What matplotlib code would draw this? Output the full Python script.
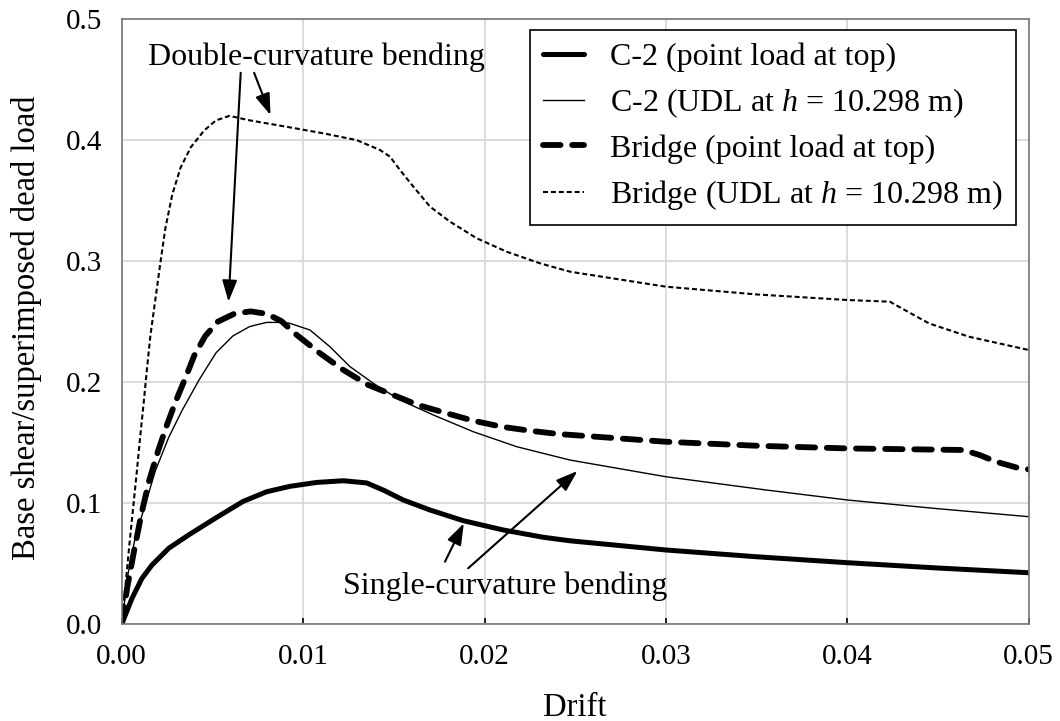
import matplotlib
matplotlib.use("Agg")
import matplotlib.pyplot as plt

plt.rcParams["font.family"] = ["Liberation Serif", "DejaVu Serif"]
plt.rcParams["mathtext.fontset"] = "custom"
plt.rcParams["mathtext.rm"] = "Liberation Serif"
plt.rcParams["mathtext.it"] = "Liberation Serif:italic"

# Pushover curves: drift vs base shear / superimposed dead load
c2_point_x = [0.0, 0.00056, 0.00111, 0.00167, 0.0026, 0.00371, 0.0052, 0.00669, 0.00799,
              0.00928, 0.01075, 0.01222, 0.0135, 0.01442, 0.01552, 0.0170, 0.01883,
              0.02104, 0.02324, 0.02471, 0.0300, 0.0350, 0.0400, 0.0450, 0.0500]
c2_point_y = [0.0, 0.0212, 0.0378, 0.0490, 0.0629, 0.0740, 0.0880, 0.1015, 0.1095,
              0.1140, 0.1172, 0.1186, 0.1168, 0.1109, 0.1027, 0.0944, 0.0856,
              0.0779, 0.0719, 0.0690, 0.0614, 0.0558, 0.0509, 0.0465, 0.0426]

c2_udl_x = [0.0, 0.00037, 0.00074, 0.0013, 0.00186, 0.0026, 0.00334, 0.00427, 0.0052,
            0.00613, 0.00706, 0.00799, 0.00891, 0.00928, 0.01038, 0.01148, 0.01259,
            0.01387, 0.01534, 0.01718, 0.01938, 0.02178, 0.02471, 0.0300, 0.0355,
            0.0400, 0.0450, 0.0500]
c2_udl_y = [0.0, 0.0434, 0.0712, 0.0990, 0.1270, 0.1547, 0.1770, 0.2020, 0.2243,
            0.2382, 0.2460, 0.2494, 0.2494, 0.2486, 0.2431, 0.2293, 0.2128,
            0.1991, 0.1853, 0.1729, 0.1591, 0.1467, 0.1357, 0.1219, 0.1110,
            0.1027, 0.0955, 0.0889]

bridge_point_x = [0.0, 0.0003, 0.0007, 0.0011, 0.0015, 0.0020, 0.0025, 0.0030, 0.0035,
                  0.0040, 0.0046, 0.0053, 0.0062, 0.0071, 0.0080, 0.0088, 0.00965,
                  0.01093, 0.01222, 0.01359, 0.01497, 0.01635, 0.01792, 0.01938,
                  0.02095, 0.02251, 0.02407, 0.0300, 0.0350, 0.0400, 0.0464, 0.0473,
                  0.0482, 0.0495, 0.0500]
bridge_point_y = [0.0, 0.030, 0.062, 0.092, 0.118, 0.143, 0.165, 0.185, 0.203,
                  0.222, 0.238, 0.250, 0.2565, 0.2585, 0.2565, 0.2505, 0.2390,
                  0.2239, 0.2101, 0.1977, 0.1894, 0.1811, 0.1743, 0.1682,
                  0.1632, 0.1599, 0.1572, 0.1508, 0.1475, 0.1453, 0.1440, 0.1398,
                  0.1343, 0.1288, 0.1280]

bridge_udl_x = [0.0, 0.0001, 0.00028, 0.00046, 0.00065, 0.00084, 0.00102, 0.00121,
                0.00139, 0.00158, 0.00186, 0.00214, 0.00241, 0.00279, 0.00325, 0.00381,
                0.00455, 0.0052, 0.00594, 0.00706, 0.00928, 0.01111, 0.01295, 0.01424,
                0.01479, 0.01534, 0.01608, 0.0170, 0.0181, 0.01957, 0.02122, 0.02306,
                0.02471, 0.0300, 0.0350, 0.0400, 0.04235, 0.0430, 0.0445, 0.0467,
                0.0500]
bridge_udl_y = [0.0, 0.0156, 0.0434, 0.0712, 0.0990, 0.1270, 0.1550, 0.1826,
                0.2104, 0.2382, 0.2688, 0.2995, 0.3273, 0.3551, 0.3774, 0.3941,
                0.4080, 0.4163, 0.4200, 0.4163, 0.4105, 0.4056, 0.4000, 0.3918,
                0.3863, 0.3753, 0.3615, 0.3450, 0.3326, 0.3189, 0.3078, 0.2982,
                0.2913, 0.2789, 0.2725, 0.2679, 0.2665, 0.2610, 0.2486, 0.2376,
                0.2266]

labels = ["C-2 (point load at top)",
          "C-2 (UDL at $h$ = 10.298 m)",
          "Bridge (point load at top)",
          "Bridge (UDL at $h$ = 10.298 m)"]

fig = plt.figure(figsize=(10.6, 7.21), dpi=100)
ax = fig.add_axes([0.1148, 0.1341, 0.8557, 0.8395])

ax.plot(c2_point_x, c2_point_y, color="black", lw=3.6, solid_capstyle="round",
        solid_joinstyle="round", label=labels[0])
ax.plot(c2_udl_x, c2_udl_y, color="black", lw=1.0, solid_joinstyle="round",
        label=labels[1])
ax.plot(bridge_point_x, bridge_point_y, color="black", lw=4.2,
        dashes=(3.0, 2.0), dash_capstyle="round", label=labels[2])
ax.plot(bridge_udl_x, bridge_udl_y, color="black", lw=1.5,
        dashes=(2.4, 1.4), label=labels[3])

ax.set_xlim(0, 0.05)
ax.set_ylim(0, 0.5)
ax.set_xticks([0.0, 0.01, 0.02, 0.03, 0.04, 0.05])
ax.set_xticklabels(["0.00", "0.01", "0.02", "0.03", "0.04", "0.05"])
ax.set_yticks([0.0, 0.1, 0.2, 0.3, 0.4, 0.5])
ax.set_yticklabels(["0.0", "0.1", "0.2", "0.3", "0.4", "0.5"])
ax.tick_params(axis="x", direction="in", length=4, width=1.2, pad=14, labelsize=21)
ax.tick_params(axis="y", length=0, pad=14, labelsize=21)

ax.grid(True, color="#d9d9d9", lw=1.3)
ax.set_axisbelow(True)
for sp in ax.spines.values():
    sp.set_color("#777777")
    sp.set_linewidth(1.2)

ax.set_xlabel("Drift", fontsize=23.5)
ax.xaxis.set_label_coords(0.5, -0.112)
ax.set_ylabel("Base shear/superimposed dead load", fontsize=23.5)
ax.yaxis.set_label_coords(-0.088, 0.49)

leg = ax.legend(loc="upper right", bbox_to_anchor=(0.9855, 0.9827), fontsize=23,
                frameon=True, fancybox=False, edgecolor="black", framealpha=1,
                handlelength=1.3, handletextpad=0.8, labelspacing=0.45,
                borderpad=0.4, borderaxespad=0)
leg.get_frame().set_linewidth(1.2)

arrow = dict(arrowstyle="-|>,head_length=1.3,head_width=0.45", color="black",
             lw=1.5, shrinkA=0, shrinkB=0)
ax.text(0.01071, 0.462, "Double-curvature bending", fontsize=23, ha="center",
        va="baseline")
ax.annotate("", xy=(0.00589, 0.2665), xytext=(0.00656, 0.4556), arrowprops=arrow)
ax.annotate("", xy=(0.00820, 0.4207), xytext=(0.00730, 0.4556), arrowprops=arrow)

ax.text(0.0122, 0.025, "Single-curvature bending", fontsize=23, ha="left",
        va="baseline")
ax.annotate("", xy=(0.01886, 0.0834), xytext=(0.01782, 0.0517), arrowprops=arrow)
ax.annotate("", xy=(0.02512, 0.1266), xytext=(0.01910, 0.0463), arrowprops=arrow)

fig.savefig("out.png", dpi=100)
